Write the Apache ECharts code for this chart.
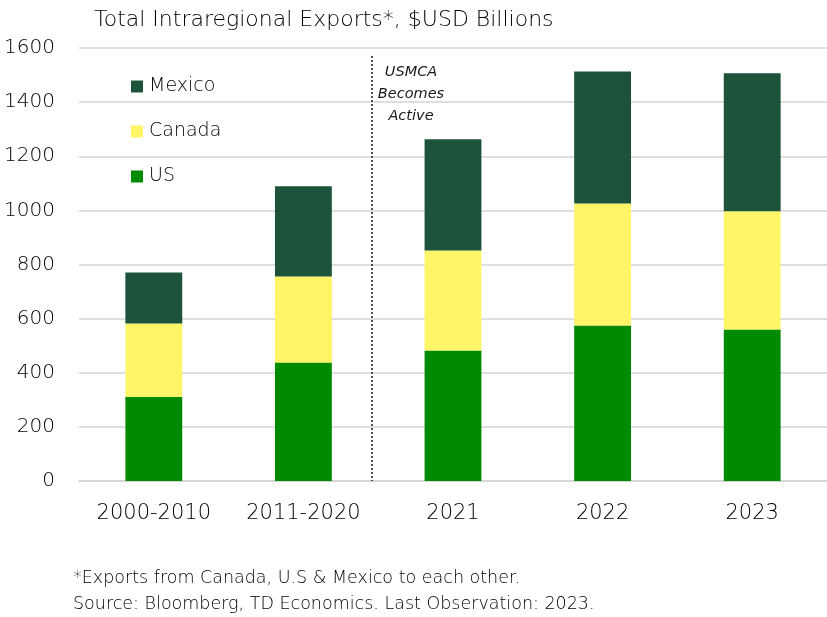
<!DOCTYPE html>
<html>
<head>
<meta charset="utf-8">
<script src="https://cdn.jsdelivr.net/npm/echarts@6/dist/echarts.min.js"></script>
<style>html,body{margin:0;padding:0;background:#fff;}#c{width:827px;height:617px;}</style>
</head>
<body>
<div id="c"></div>
<script>
const categories = ['2000-2010', '2011-2020', '2021', '2022', '2023'];
const usValues = [310, 438, 482, 575, 560];
const canadaValues = [272, 318, 370, 450, 437];
const mexicoValues = [188, 333, 411, 488, 510];
const yTicks = [0, 200, 400, 600, 800, 1000, 1200, 1400, 1600];
const usmcaLinePos = [1.46];

const FONT = 'DejaVu Sans';
const TXT = '#000000';
const chart = echarts.init(document.getElementById('c'));
chart.setOption({
  animation: false,
  backgroundColor: '#ffffff',
  textStyle: { fontFamily: FONT },
  title: {
    text: 'Total Intraregional Exports*, $USD Billions',
    left: 89, top: 4,
    textStyle: { fontFamily: FONT, fontSize: 22, fontWeight: 300, color: TXT }
  },
  legend: {
    data: ['Mexico', 'Canada', 'US'],
    orient: 'vertical',
    left: 126, top: 72,
    itemWidth: 12, itemHeight: 12, itemGap: 26,
    icon: 'rect',
    textStyle: { fontFamily: FONT, fontSize: 19, fontWeight: 300, color: TXT, padding: [0, 0, 0, 1] }
  },
  grid: { left: 79, right: 0, top: 48, bottom: 136, containLabel: false, outerBoundsMode: 'none' },
  xAxis: [{
    type: 'category',
    data: categories,
    axisLine: { show: true, lineStyle: { color: '#d3d3d3', width: 1.5 } },
    axisTick: { show: false },
    axisLabel: { fontFamily: FONT, fontSize: 21, fontWeight: 300, color: TXT, margin: 22 }
  }, {
    type: 'value', min: -0.5, max: 4.5, show: false
  }],
  yAxis: {
    type: 'value',
    min: yTicks[0], max: yTicks[yTicks.length - 1], interval: yTicks[1] - yTicks[0],
    axisLine: { show: false },
    axisTick: { show: false },
    splitLine: { lineStyle: { color: '#d3d3d3', width: 1.5 } },
    axisLabel: { fontFamily: FONT, fontSize: 20, fontWeight: 300, color: TXT, margin: 24, align: 'right',
      formatter: v => String(v) }
  },
  series: [
    { name: 'US', type: 'bar', stack: 't', data: usValues, barWidth: '38%', itemStyle: { color: '#008a00' } },
    { name: 'Canada', type: 'bar', stack: 't', data: canadaValues, itemStyle: { color: '#fff566' } },
    { name: 'Mexico', type: 'bar', stack: 't', data: mexicoValues, itemStyle: { color: '#1c533a' } },
    {
      name: 'line', type: 'line', xAxisIndex: 1, data: [], silent: true,
      markLine: {
        silent: true, symbol: 'none', animation: false,
        lineStyle: { color: '#1a1a1a', type: [2, 2], width: 1.5 },
        label: { show: false },
        data: usmcaLinePos.map(v => [{ coord: [v, 1570] }, { coord: [v, 0] }])
      }
    }
  ],
  graphic: [
    {
      type: 'text', x: 411, y: 61,
      style: {
        text: 'USMCA\nBecomes\nActive', align: 'center',
        fontFamily: FONT, fontStyle: 'italic', fontWeight: 'normal', fontSize: 14.5,
        fill: '#1a1a1a', lineHeight: 22
      }
    },
    {
      type: 'text', left: 73, top: 565,
      style: {
        text: '*Exports from Canada, U.S & Mexico to each other.\nSource: Bloomberg, TD Economics. Last Observation: 2023.',
        fontFamily: FONT, fontWeight: 300, fontSize: 17.5, fill: TXT, lineHeight: 26
      }
    }
  ]
});
</script>
</body>
</html>
